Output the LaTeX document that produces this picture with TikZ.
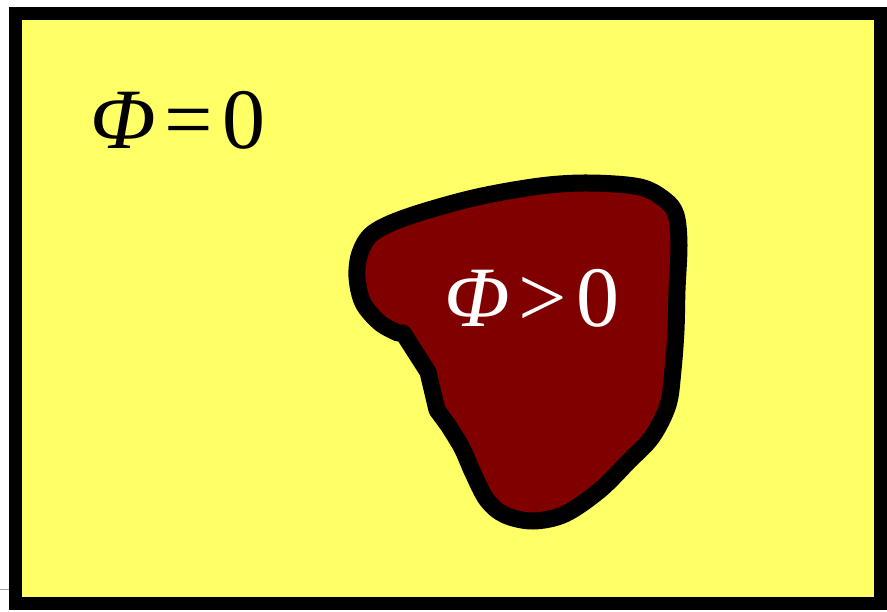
\documentclass[tikz,border=0pt]{standalone}
\usepackage{fontspec}
\setmainfont{Liberation Serif}
\definecolor{bgyellow}{HTML}{FFFF66}
\definecolor{blobred}{HTML}{800000}
\tikzset{
  frame/.style={draw=black, line width=13pt, fill=bgyellow},
  blob/.style={draw=black, line width=17pt, fill=blobred, line join=round},
  lbl/.style={font=\fontsize{86}{86}\selectfont, inner sep=0pt}
}
\begin{document}
\begin{tikzpicture}[x=1pt,y=-1pt]
\useasboundingbox (0,0) rectangle (887,611);
\fill[white] (0,0) rectangle (887,611);
\draw[gray!70, line width=1pt] (0,589) -- (10,589);
\draw[frame] (15,13) rectangle (880,603);
\draw[blob] (403,333) -- (428,372) -- (437,410) -- (448,425)
  -- plot[smooth, tension=0.55] coordinates {(448,425) (462,448) (473,473) (487,500) (505,515) (533,521) (565,514) (600,490) (628,462) (652,437) (668,405) (673,370) (676,330) (677,290) (679,245) (676,215) (665,200) (640,187) (590,183) (540,186) (473,198) (407,217) (373,233) (360,253) (357,277) (363,303) (380,323) (398,333)}
  -- cycle;
\node[lbl, text=black] (phi0) at (178,120) {\textit{Φ}\kern9pt=\kern9pt0};
\node[lbl, text=white] (phipos) at (532,298) {\textit{Φ}\kern9pt>\kern9pt0};
\end{tikzpicture}
\end{document}
